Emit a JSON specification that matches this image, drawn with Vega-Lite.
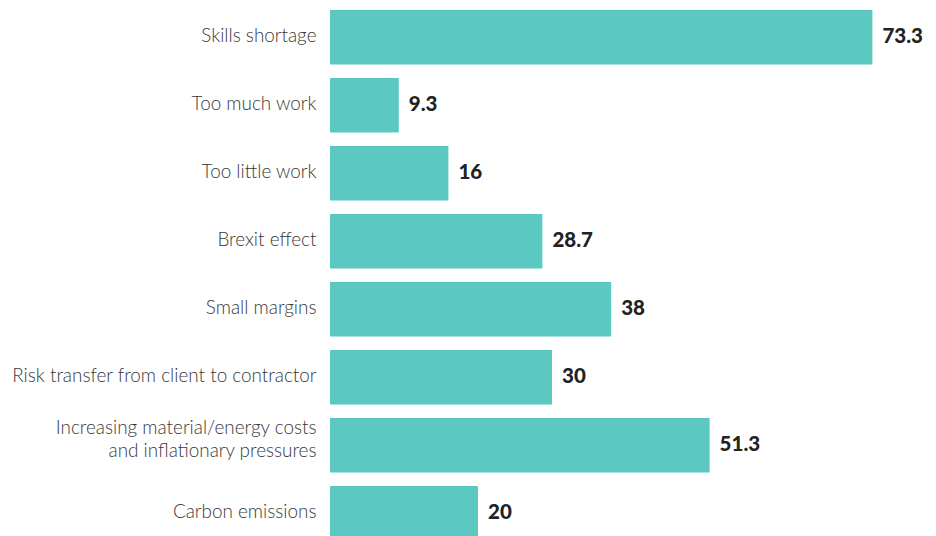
{
  "$schema": "https://vega.github.io/schema/vega-lite/v6.json",
  "autosize": "none",
  "width": 592,
  "height": 536,
  "padding": {"top": 0, "bottom": 0, "left": 330, "right": 14},
  "background": "white",
  "config": {"view": {"stroke": null}, "font": "Lato"},
  "data": {"values": [
    {"reason": "Skills shortage", "value": 73.3},
    {"reason": "Too much work", "value": 9.3},
    {"reason": "Too little work", "value": 16},
    {"reason": "Brexit effect", "value": 28.7},
    {"reason": "Small margins", "value": 38},
    {"reason": "Risk transfer from client to contractor", "value": 30},
    {"reason": "Increasing material/energy costs|and inflationary pressures", "value": 51.3},
    {"reason": "Carbon emissions", "value": 20}
  ]},
  "encoding": {
    "y": {
      "field": "reason", "type": "nominal", "sort": null,
      "scale": {"range": [0, 550.4], "paddingInner": 0.2, "paddingOuter": 0.147},
      "axis": {
        "title": null, "ticks": false, "domain": false, "labelPadding": 14,
        "labelFontSize": 18.9, "labelColor": "#383838", "labelFont": "Lato",
        "labelFontWeight": 300,
        "labelLimit": 400, "labelLineHeight": 23,
        "labelOffset": {"condition": {"test": "indexof(datum.label, '|') >= 0", "value": -17}, "value": -1},
        "labelExpr": "split(datum.label, '|')"
      }
    },
    "x": {
      "field": "value", "type": "quantitative",
      "scale": {"domain": [0, 80], "nice": false},
      "axis": null
    }
  },
  "layer": [
    {"mark": {"type": "bar", "color": "#5cc8c2", "clip": true}},
    {"mark": {"type": "text", "align": "left", "baseline": "middle", "dx": 10, "fontSize": 20.5, "fontWeight": 900, "color": "#222222", "font": "Lato"},
     "encoding": {"text": {"field": "value", "type": "quantitative"}}}
  ]
}
